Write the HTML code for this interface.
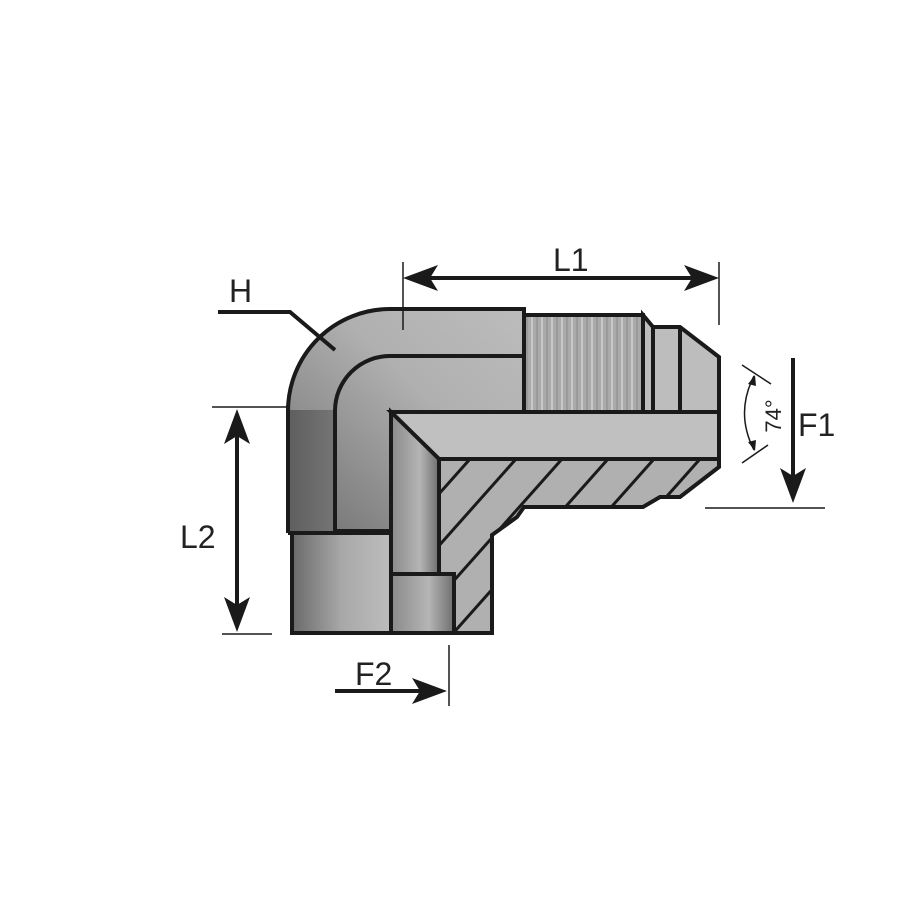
<!DOCTYPE html>
<html><head><style>body{margin:0;background:#fff}svg{display:block}</style></head><body>
<svg width="900" height="900" viewBox="0 0 900 900" xmlns="http://www.w3.org/2000/svg" font-family="Liberation Sans, sans-serif">
<defs>
<linearGradient id="gv" x1="0" x2="1" y1="0" y2="0"><stop offset="0" stop-color="#8a8a8a"/><stop offset="0.6" stop-color="#b5b5b5"/><stop offset="1" stop-color="#6e6e6e"/></linearGradient>
<linearGradient id="gs" x1="0" x2="1"><stop offset="0" stop-color="#6a6a6a"/><stop offset="0.5" stop-color="#a8a8a8"/><stop offset="1" stop-color="#bdbdbd"/></linearGradient>
<linearGradient id="gd" x1="0" x2="1"><stop offset="0" stop-color="#5e5e5e"/><stop offset="1" stop-color="#757575"/></linearGradient>
<linearGradient id="ga" x1="0" x2="1" y1="1" y2="0"><stop offset="0" stop-color="#707070"/><stop offset="0.6" stop-color="#b0b0b0"/><stop offset="1" stop-color="#bcbcbc"/></linearGradient>
<pattern id="th" width="10" height="10" patternUnits="userSpaceOnUse"><rect width="10" height="10" fill="#aaa"/><line x1="2" y1="0" x2="2" y2="10" stroke="#c8c8c8" stroke-width="2"/><line x1="7" y1="0" x2="7" y2="10" stroke="#949494" stroke-width="1.5"/></pattern>
<clipPath id="hc"><path d="M439,459 L719,459 L719,467 L680,497 L660,497 L643,507 L524,507 L517,517 L492,535 L492,633 L439,633 Z"/></clipPath>
</defs>
<g stroke="#1a1a1a" stroke-width="4" stroke-linejoin="miter">
<path d="M288,531 L288,410 A102,102 0 0 1 390,309 L524,309 L524,412 L391,412 L391,531 Z" fill="url(#ga)"/>
<rect x="288" y="410" width="47" height="121" fill="url(#gd)" stroke="none"/>
<line x1="288" y1="405" x2="288" y2="533"/>
<path d="M335,531 L335,410 A55,55 0 0 1 390,356 L524,356" fill="none"/>
<rect x="524" y="315" width="119" height="97" fill="url(#th)"/>
<path d="M643,315 L653,327 L680,327 L719,357 L719,412 L643,412 Z" fill="#bdbdbd"/>
<line x1="653" y1="327" x2="653" y2="412"/><line x1="680" y1="327" x2="680" y2="412"/>
<path d="M439,459 L719,459 L719,467 L680,497 L660,497 L643,507 L524,507 L517,517 L492,535 L492,633 L439,633 Z" fill="#b0b0b0"/>
<g clip-path="url(#hc)" stroke-width="3">
<line x1="470" y1="459" x2="270" y2="684"/><line x1="516" y1="459" x2="316" y2="684"/>
<line x1="562" y1="459" x2="362" y2="684"/><line x1="608" y1="459" x2="408" y2="684"/>
<line x1="654" y1="459" x2="454" y2="684"/><line x1="700" y1="459" x2="500" y2="684"/>
<line x1="746" y1="459" x2="546" y2="684"/><line x1="792" y1="459" x2="592" y2="684"/>
</g>
<path d="M391,412 L719,412 L719,459 L439,459 Z" fill="#c0c0c0"/>
<path d="M391,412 L439,459 L439,633 L391,633 Z" fill="url(#gv)"/>
<rect x="292" y="533" width="99" height="100" fill="url(#gs)"/>
<rect x="391" y="574" width="63" height="59" fill="url(#gv)"/>
<line x1="288" y1="533" x2="391" y2="533"/>
</g>
<g stroke="#1a1a1a" fill="none">
<line x1="403" y1="262" x2="403" y2="330" stroke-width="1.5"/>
<line x1="719" y1="262" x2="719" y2="325" stroke-width="1.5"/>
<line x1="420" y1="278" x2="702" y2="278" stroke-width="4"/>
<line x1="212" y1="407" x2="287" y2="407" stroke-width="1.5"/>
<line x1="222" y1="634" x2="272" y2="634" stroke-width="1.5"/>
<line x1="237" y1="425" x2="237" y2="615" stroke-width="4"/>
<line x1="705" y1="508" x2="825" y2="508" stroke-width="1.5"/>
<line x1="793" y1="358" x2="793" y2="485" stroke-width="4"/>
<line x1="449" y1="645" x2="449" y2="706" stroke-width="1.5"/>
<line x1="335" y1="691" x2="425" y2="691" stroke-width="4"/>
<path d="M218,312 L290,312 L335,350" stroke-width="4"/>
<line x1="742" y1="365" x2="771" y2="384" stroke-width="1.5"/>
<line x1="742" y1="463" x2="768" y2="445" stroke-width="1.5"/>
<path d="M754,376 Q735,413 754,450" stroke-width="1.5"/>
</g>
<g fill="#1a1a1a">
<path d="M403,278 L438,265 L430,278 L438,291 Z"/>
<path d="M719,278 L684,265 L692,278 L684,291 Z"/>
<path d="M237,409 L224,444 L237,436 L250,444 Z"/>
<path d="M237,632 L224,597 L237,605 L250,597 Z"/>
<path d="M793,503 L780,468 L793,476 L806,468 Z"/>
<path d="M447,691 L412,678 L420,691 L412,704 Z"/>
<path d="M755,375 L748,384 L756,386 Z"/>
<path d="M755,451 L748,442 L756,440 Z"/>
</g>
<g fill="#222" font-size="32">
<text x="553" y="271">L1</text>
<text x="229" y="302">H</text>
<text x="180" y="548">L2</text>
<text x="798" y="436">F1</text>
<text x="355" y="685">F2</text>
<text transform="translate(781,416) rotate(-90)" text-anchor="middle" font-size="22">74°</text>
</g>
</svg>
</body></html>
